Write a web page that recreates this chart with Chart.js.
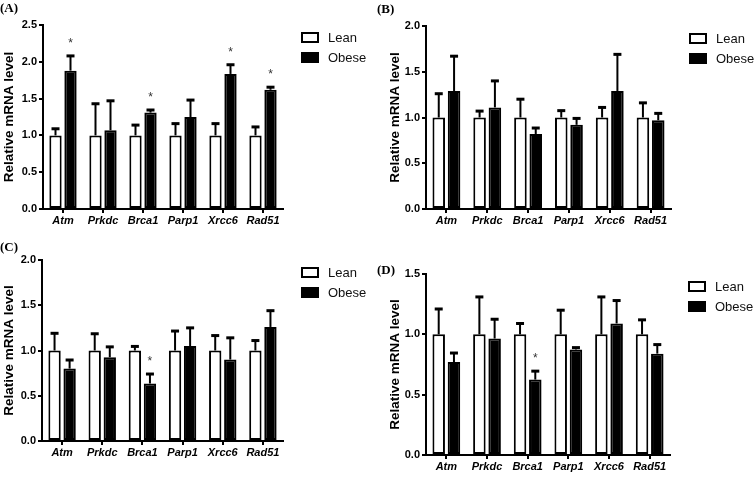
<!DOCTYPE html>
<html>
<head>
<meta charset="utf-8">
<script src="https://cdn.jsdelivr.net/npm/chart.js@4.4.1/dist/chart.umd.min.js"></script>
<style>
  html, body { margin: 0; padding: 0; background: #fff; }
  #wrap { position: relative; width: 754px; height: 477px; overflow: hidden; background: #fff; }
  canvas { position: absolute; }
  .plabel { position: absolute; font-family: "Liberation Serif", "Times New Roman", serif; font-weight: bold; font-size: 13px; line-height: 13px; color: #000; }
</style>
</head>
<body>
<div id="wrap">
  <canvas id="cA" width="377" height="238" style="left:0;top:0"></canvas>
  <canvas id="cB" width="377" height="238" style="left:377px;top:0"></canvas>
  <canvas id="cC" width="377" height="239" style="left:0;top:238px"></canvas>
  <canvas id="cD" width="377" height="239" style="left:377px;top:238px"></canvas>
  <div class="plabel" style="left:0;top:1px">(A)</div>
  <div class="plabel" style="left:377px;top:2px">(B)</div>
  <div class="plabel" style="left:0;top:240px">(C)</div>
  <div class="plabel" style="left:377px;top:263px">(D)</div>
</div>
<script>
// ---------------- data ----------------
const categories = ['Atm', 'Prkdc', 'Brca1', 'Parp1', 'Xrcc6', 'Rad51'];
const seriesNames = ['Lean', 'Obese'];
const yTitle = 'Relative mRNA level';

// Panel A
const leanA     = [1, 1, 1, 1, 1, 1];
const leanErrA  = [1.09, 1.43, 1.14, 1.16, 1.16, 1.115];   // top of error bar (mean + SEM)
const obeseA    = [1.88, 1.07, 1.31, 1.25, 1.835, 1.62];
const obeseErrA = [2.08, 1.47, 1.345, 1.48, 1.96, 1.655];
const sigA      = [1, 0, 1, 0, 1, 1];
const yMaxA = 2.5;

// Panel B
const leanB     = [1, 1, 1, 1, 1, 1];
const leanErrB  = [1.26, 1.07, 1.20, 1.075, 1.11, 1.16];
const obeseB    = [1.29, 1.11, 0.82, 0.92, 1.29, 0.97];
const obeseErrB = [1.67, 1.40, 0.885, 0.99, 1.69, 1.045];
const sigB      = [0, 0, 0, 0, 0, 0];
const yMaxB = 2.0;

// Panel C
const leanC     = [1, 1, 1, 1, 1, 1];
const leanErrC  = [1.19, 1.185, 1.045, 1.215, 1.165, 1.11];
const obeseC    = [0.80, 0.925, 0.635, 1.05, 0.90, 1.26];
const obeseErrC = [0.895, 1.04, 0.74, 1.25, 1.14, 1.44];
const sigC      = [0, 0, 1, 0, 0, 0];
const yMaxC = 2.0;

// Panel D
const leanD     = [1, 1, 1, 1, 1, 1];
const leanErrD  = [1.21, 1.31, 1.09, 1.20, 1.31, 1.12];
const obeseD    = [0.77, 0.965, 0.625, 0.875, 1.09, 0.84];
const obeseErrD = [0.845, 1.125, 0.695, 0.89, 1.28, 0.915];
const sigD      = [0, 0, 1, 0, 0, 0];
const yMaxD = 1.5;

// ---------------- styling ----------------
Chart.defaults.font.family = '"Liberation Sans", Arial, sans-serif';
Chart.defaults.color = '#000';

const errorBarPlugin = {
  id: 'errorBars',
  afterDatasetsDraw(chart, args, opts) {
    const ctx = chart.ctx;
    const yScale = chart.scales.y;
    chart.data.datasets.forEach((ds, i) => {
      const meta = chart.getDatasetMeta(i);
      meta.data.forEach((el, j) => {
        const top = ds.errTop[j];
        const yT = yScale.getPixelForValue(top);
        const x = el.x;
        ctx.save();
        ctx.strokeStyle = '#000';
        ctx.lineWidth = 2;
        ctx.beginPath();
        ctx.moveTo(x, el.y);
        ctx.lineTo(x, yT);
        ctx.stroke();
        ctx.lineWidth = 3;
        ctx.beginPath();
        ctx.moveTo(x - 4, yT);
        ctx.lineTo(x + 4, yT);
        ctx.stroke();
        if (ds.sig && ds.sig[j]) {
          ctx.fillStyle = '#333';
          ctx.font = '12px "Liberation Sans", Arial, sans-serif';
          ctx.textAlign = 'center';
          ctx.textBaseline = 'alphabetic';
          ctx.fillText('*', x, yT - 9);
        }
        ctx.restore();
      });
    });
  }
};

const legendPlugin = {
  id: 'customLegend',
  afterDraw(chart) {
    const ctx = chart.ctx;
    const a = chart.chartArea;
    chart.data.datasets.forEach((ds, i) => {
      const bx = a.right + 18, by = a.top + 7 + i * 20;
      ctx.save();
      ctx.fillStyle = '#000';
      ctx.fillRect(bx, by, 18, 11);
      if (ds.backgroundColor !== '#000') {
        ctx.fillStyle = ds.backgroundColor;
        ctx.fillRect(bx + 2, by + 2, 14, 7);
      }
      ctx.fillStyle = '#111';
      ctx.font = '13px "Liberation Sans", Arial, sans-serif';
      ctx.textAlign = 'left';
      ctx.textBaseline = 'middle';
      ctx.fillText(ds.label, bx + 27, by + 6);
      ctx.restore();
    });
  }
};

function makePanel(id, lean, leanErr, obese, obeseErr, sig, yMax, geo) {
  const canvas = document.getElementById(id);
  const H = canvas.height;
  return new Chart(canvas, {
    type: 'bar',
    data: {
      labels: categories,
      datasets: [
        { label: seriesNames[0], data: lean, errTop: leanErr, sig: null,
          backgroundColor: '#fff', borderColor: '#000', borderWidth: 2, borderSkipped: false,
          categoryPercentage: 0.75, barPercentage: 0.82 },
        { label: seriesNames[1], data: obese, errTop: obeseErr, sig: sig,
          backgroundColor: '#000', borderColor: '#000', borderWidth: 2, borderSkipped: false,
          categoryPercentage: 0.75, barPercentage: 0.82 }
      ]
    },
    options: {
      responsive: false,
      animation: false,
      devicePixelRatio: 1,
      layout: { padding: { top: geo.top, right: canvas.width - geo.right, left: 0, bottom: 0 } },
      plugins: { legend: { display: false }, tooltip: { enabled: false } },
      scales: {
        x: {
          grid: { display: true, drawOnChartArea: false, offset: false, tickLength: 4, color: '#000', lineWidth: 2 },
          border: { display: true, color: '#000', width: 2 },
          ticks: { padding: 1, color: '#000', font: { size: 11, weight: 'bold', style: 'italic' }, maxRotation: 0, autoSkip: false },
          afterFit: (ax) => { ax.height = H - geo.bottom; }
        },
        y: {
          min: 0, max: yMax,
          grid: { display: true, drawOnChartArea: false, tickLength: 4, color: '#000', lineWidth: 2 },
          border: { display: true, color: '#000', width: 2 },
          ticks: { stepSize: 0.5, padding: 2, color: '#000', font: { size: 11, weight: 'bold' },
                   callback: (v) => Number(v).toFixed(1) },
          title: { display: true, text: yTitle, color: '#000', font: { size: 13.5, weight: 'bold' },
                   padding: { top: geo.titlePad, bottom: 0 } },
          afterFit: (ax) => { ax.width = geo.left; }
        }
      }
    },
    plugins: [errorBarPlugin, legendPlugin]
  });
}

makePanel('cA', leanA, leanErrA, obeseA, obeseErrA, sigA, yMaxA, { left: 43, right: 283, top: 25, bottom: 209, titlePad: 1 });
makePanel('cB', leanB, leanErrB, obeseB, obeseErrB, sigB, yMaxB, { left: 49, right: 294, top: 26, bottom: 209, titlePad: 10 });
makePanel('cC', leanC, leanErrC, obeseC, obeseErrC, sigC, yMaxC, { left: 42, right: 283, top: 22, bottom: 203, titlePad: 1 });
makePanel('cD', leanD, leanErrD, obeseD, obeseErrD, sigD, yMaxD, { left: 49, right: 293, top: 36, bottom: 217, titlePad: 10 });
</script>
</body>
</html>
